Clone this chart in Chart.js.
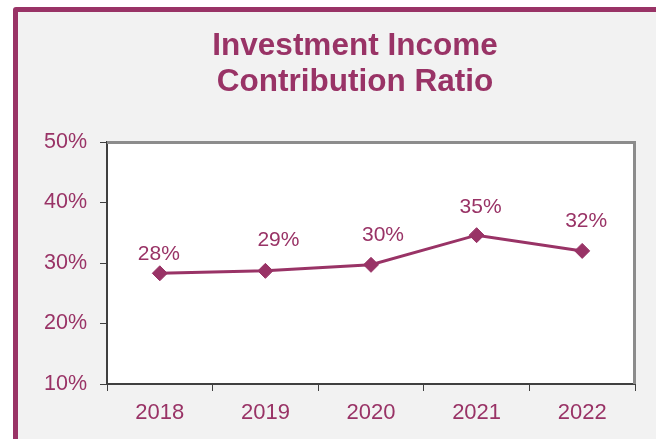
<!DOCTYPE html>
<html>
<head>
<meta charset="utf-8">
<script src="https://cdn.jsdelivr.net/npm/chart.js@4.4.0/dist/chart.umd.min.js"></script>
<style>
  html, body { margin: 0; padding: 0; width: 656px; height: 439px; overflow: hidden; background: #fff; }
  #frame {
    position: absolute; left: 13px; top: 7px; width: 648px; height: 470px;
    box-sizing: border-box; border: 5px solid #993366; border-radius: 3px; background: #f2f2f2;
  }
  #chart { position: absolute; left: 0; top: 0; }
</style>
</head>
<body>
<div id="frame"></div>
<canvas id="chart" width="656" height="439"></canvas>
<script>
// ── data ────────────────────────────────────────────
var years = ['2018', '2019', '2020', '2021', '2022'];
var ratioValues = [28.3, 28.7, 29.7, 34.6, 32.0];
var yMin = 10, yMax = 50, yStep = 10;
var titleLines = ['Investment Income', 'Contribution Ratio'];

var MAGENTA = '#993366';
var FONT = '"Liberation Sans", Arial, sans-serif';

// label nudges (px) relative to each marker, as placed in the original
var labelDx = [-1, 13, 12, 4, 4];
var labelDy = [-19, -31, -30, -28, -30];

var decorPlugin = {
    id: 'decor',
    beforeDraw: function (chart) {
        var a = chart.chartArea, ctx = chart.ctx;
        ctx.save();
        ctx.fillStyle = '#ffffff';
        ctx.fillRect(a.left, a.top, a.right - a.left, a.bottom - a.top);
        ctx.restore();
    },
    afterDraw: function (chart) {
        var a = chart.chartArea, ctx = chart.ctx;
        ctx.save();

        // gray top / right edge of the plot box
        ctx.strokeStyle = '#8c8c8c';
        ctx.lineWidth = 3;
        ctx.beginPath();
        ctx.moveTo(a.left, a.top + 0.5);
        ctx.lineTo(a.right - 0.5, a.top + 0.5);
        ctx.lineTo(a.right - 0.5, a.bottom);
        ctx.stroke();

        // title
        ctx.fillStyle = MAGENTA;
        ctx.textAlign = 'center';
        ctx.textBaseline = 'alphabetic';
        ctx.font = 'bold 31.5px ' + FONT;
        ctx.fillText(titleLines[0], 355, 55);
        ctx.fillText(titleLines[1], 355, 91);

        // value labels
        var meta = chart.getDatasetMeta(0);
        ctx.font = '21px ' + FONT;
        ctx.textBaseline = 'middle';
        for (var i = 0; i < meta.data.length; i++) {
            var pt = meta.data[i];
            ctx.fillText(Math.round(ratioValues[i]) + '%', pt.x + labelDx[i], pt.y + labelDy[i]);
        }
        ctx.restore();
    }
};

new Chart(document.getElementById('chart').getContext('2d'), {
    type: 'line',
    data: {
        labels: years,
        datasets: [{
            data: ratioValues,
            borderColor: MAGENTA,
            borderWidth: 3,
            backgroundColor: MAGENTA,
            pointStyle: 'rectRot',
            pointRadius: 7.5,
            pointBackgroundColor: MAGENTA,
            pointBorderColor: MAGENTA,
            pointBorderWidth: 1,
            tension: 0
        }]
    },
    options: {
        responsive: false,
        animation: false,
        devicePixelRatio: 1,
        layout: { padding: { top: 142, right: 21, left: 0, bottom: 0 } },
        plugins: {
            legend: { display: false },
            tooltip: { enabled: false },
            title: { display: false }
        },
        scales: {
            x: {
                offset: true,
                grid: { offset: true, drawOnChartArea: false, drawTicks: true, tickLength: 7, color: '#404040', lineWidth: 1 },
                border: { color: '#404040', width: 2 },
                ticks: { color: MAGENTA, font: { family: FONT, size: 22 }, padding: 9, maxRotation: 0 },
                afterFit: function (s) { s.height = 55; }
            },
            y: {
                min: yMin,
                max: yMax,
                grid: { drawOnChartArea: false, drawTicks: true, tickLength: 7, color: '#404040', lineWidth: 1 },
                border: { color: '#404040', width: 2 },
                ticks: {
                    stepSize: yStep,
                    color: MAGENTA,
                    font: { family: FONT, size: 21.5 },
                    padding: 13,
                    callback: function (v) { return v + '%'; }
                },
                afterFit: function (s) { s.width = 107; }
            }
        }
    },
    plugins: [decorPlugin]
});
</script>
</body>
</html>
